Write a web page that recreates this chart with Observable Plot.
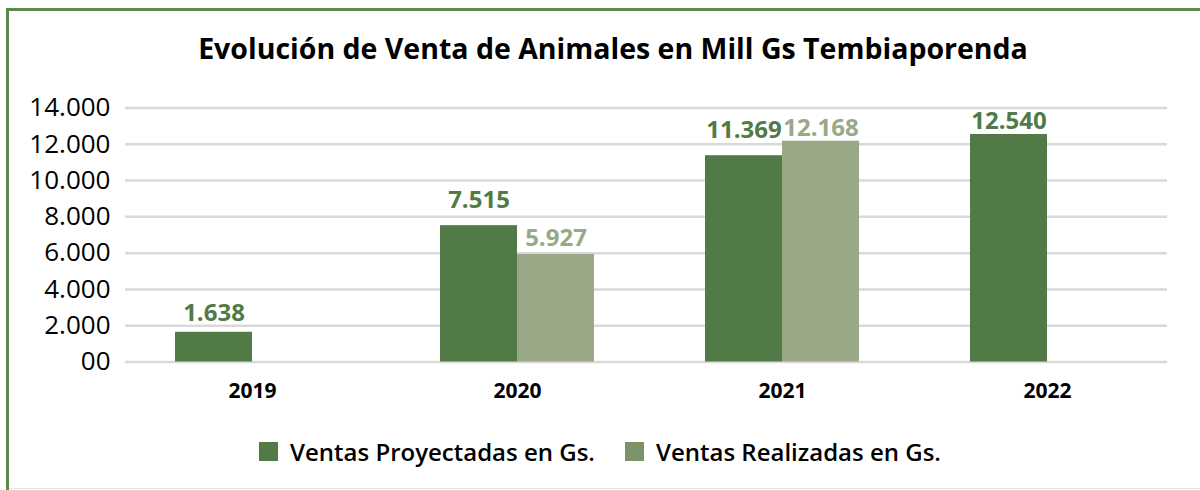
<!DOCTYPE html>
<html>
<head>
<meta charset="utf-8">
<script src="https://cdn.jsdelivr.net/npm/d3@7"></script>
<script src="https://cdn.jsdelivr.net/npm/@observablehq/plot@0.6"></script>
<style>
  html, body { margin: 0; padding: 0; background: #fff; }
  body { font-family: "Open Sans", "Noto Sans", sans-serif; }
  #wrap { position: relative; width: 1200px; height: 490px; overflow: hidden; }
  #frame { position: absolute; left: 6px; top: 8px; width: 1300px; height: 600px; border: 3px solid #5a8a4e; box-sizing: border-box; pointer-events: none; }
  #bottomline { position: absolute; left: 9px; right: 0; top: 488px; height: 1px; background: #e3e3e3; }
  #title { height: 80px; box-sizing: border-box; padding-top: 29px; text-align: center; font-weight: 700; font-size: 28.5px; line-height: 38px; color: #000; padding-left: 26px; }
  #chart { height: 345px; }
  #chart svg { display: block; }
  #legend { height: 65px; display: flex; justify-content: center; align-items: center; gap: 30px; padding-left: 0; padding-bottom: 12px; box-sizing: border-box; font-size: 24px; font-weight: 600; color: #000; }
  .item { display: flex; align-items: center; }
  .sw { width: 19px; height: 19px; margin-right: 12px; }
</style>
</head>
<body>
<div id="wrap">
  <div id="frame"></div>
  <div id="bottomline"></div>
  <div id="title">Evolución de Venta de Animales en Mill Gs Tembiaporenda</div>
  <div id="chart"></div>
  <div id="legend"></div>
</div>
<script>
// ---- data ----
const years = ["2019", "2020", "2021", "2022"];
const proyectadas = [1638, 7515, 11369, 12540];
const realizadas = [null, 5927, 12168, null];
const seriesNames = ["Ventas Proyectadas en Gs.", "Ventas Realizadas en Gs."];
const yTicks = [0, 2000, 4000, 6000, 8000, 10000, 12000, 14000];
const yTickLabels = ["00", "2.000", "4.000", "6.000", "8.000", "10.000", "12.000", "14.000"];

// ---- styling ----
const colProy = "#517a46";
const colReal = "#99a887";
const legendColors = [colProy, "#7b9467"];
const fmt = d3.formatLocale({decimal: ",", thousands: ".", grouping: [3], currency: ["", ""]}).format(",");

const dataProy = years.map((y, i) => ({year: y, value: proyectadas[i], i}));
const dataReal = years.map((y, i) => ({year: y, value: realizadas[i], i})).filter(d => d.value != null);

// label gaps above bar tops (px), as positioned in the reference
const gapProy = [11, 18, 18, 5];
const gapReal = [0, 8, 5, 0];

const half = 77;

const chart = Plot.plot({
  width: 1200,
  height: 345,
  marginTop: 27.5,
  marginBottom: 63.5,
  marginLeft: 125,
  marginRight: 33,
  style: {fontFamily: "'Open Sans', 'Noto Sans', sans-serif", background: "transparent"},
  x: {domain: years, range: [119.5, 1179.5], paddingInner: 0.419, paddingOuter: 0.2095},
  y: {domain: [0, 14000]},
  marks: [
    Plot.ruleY(yTicks, {stroke: "#d9d9d9", strokeWidth: 2.5}),
    Plot.axisY({ticks: yTicks, tickFormat: (d, i) => yTickLabels[i], tickSize: 0, tickPadding: 15, fontSize: 26, label: null, fill: "#000"}),
    Plot.axisX({tickSize: 0, tickPadding: 21, fontSize: 21, fontWeight: "bold", label: null, fill: "#000"}),
    Plot.barY(dataProy, {x: "year", y: "value", fill: colProy, insetRight: half}),
    Plot.barY(dataReal, {x: "year", y: "value", fill: colReal, insetLeft: half}),
    ...dataProy.map(d => Plot.text([d], {x: "year", y: "value", text: v => fmt(v.value), dx: -half / 2, dy: -gapProy[d.i], lineAnchor: "bottom", fill: colProy, fontSize: 24, fontWeight: "bold"})),
    ...dataReal.map(d => Plot.text([d], {x: "year", y: "value", text: v => fmt(v.value), dx: half / 2, dy: -gapReal[d.i], lineAnchor: "bottom", fill: colReal, fontSize: 24, fontWeight: "bold"}))
  ]
});
document.getElementById("chart").appendChild(chart);

const legend = document.getElementById("legend");
seriesNames.forEach((name, i) => {
  const item = document.createElement("div");
  item.className = "item";
  const sw = document.createElement("div");
  sw.className = "sw";
  sw.style.background = legendColors[i];
  const t = document.createElement("span");
  t.textContent = name;
  item.appendChild(sw);
  item.appendChild(t);
  legend.appendChild(item);
});
</script>
</body>
</html>
